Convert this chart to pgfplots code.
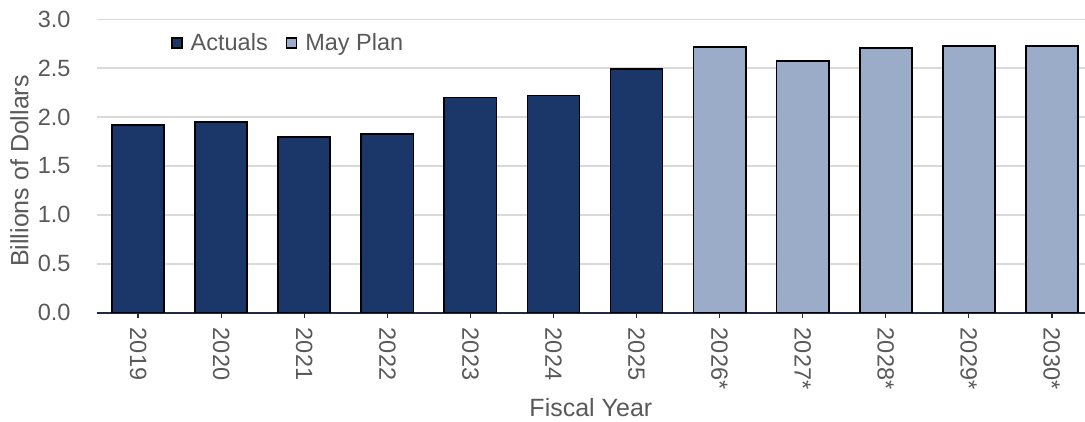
\documentclass[border=0pt]{standalone}
\usepackage{fontspec}
\setmainfont{Liberation Sans}
\usepackage{pgfplots}
\pgfplotsset{compat=1.18}
\definecolor{navy}{HTML}{1B3668}
\definecolor{plan}{HTML}{9AACC7}
\definecolor{gridgray}{HTML}{D9D9D9}
\definecolor{txt}{HTML}{595959}
\definecolor{axisline}{HTML}{1F2A44}
\begin{document}
\begin{tikzpicture}
\begin{axis}[
  scale only axis,
  width=988.3pt, height=293.4pt,
  xmin=-0.5, xmax=11.4,
  ymin=0, ymax=3,
  ytick={0,0.5,1,1.5,2,2.5,3},
  yticklabel style={/pgf/number format/fixed, /pgf/number format/fixed zerofill, /pgf/number format/precision=1, anchor=east, inner sep=0pt, xshift=-21pt},
  /pgf/number format/assume math mode=true,
  xtick={0,...,11},
  xticklabels={2019,2020,2021,2022,2023,2024,2025,2026*,2027*,2028*,2029*,2030*},
  xticklabel style={rotate=-90, anchor=west, inner sep=0pt, xshift=10pt},
  tick label style={font=\fontsize{23.5}{28}\selectfont, text=txt},
  axis x line*=bottom,
  axis y line*=left,
  x axis line style={-, color=axisline, line width=1.8pt},
  y axis line style={draw=none},
  ytick style={draw=none},
  xtick style={color=axisline, line width=1.5pt},
  tick align=outside,
  major tick length=5pt,
  ymajorgrids,
  grid style={color=gridgray, line width=1.5pt},
  xlabel={Fiscal Year},
  ylabel={Billions of Dollars},
  label style={font=\fontsize{25}{30}\selectfont, text=txt},
  xlabel style={at={([yshift=-85pt]rel axis cs:0.5,0)}, anchor=north, inner sep=0pt},
  ylabel style={at={([xshift=-86.7pt,yshift=-5pt]rel axis cs:0,0.5)}, anchor=north, inner sep=0pt},
  legend style={draw=none, fill=none, inner sep=0pt, at={(axis description cs:0,1)}, anchor=west, xshift=74.3pt, yshift=-23.7pt, font=\fontsize{23.5}{28}\selectfont, text=txt, legend columns=2, /tikz/every even column/.append style={column sep=18pt}, nodes={inner sep=0pt}},
  legend image code/.code={\draw[#1, line width=1.5pt] (0pt,-5pt) rectangle (10pt,5pt);},
  legend cell align=left,
]
\addplot[ybar, bar shift=0pt, bar width=0.627, fill=navy, draw=black, line width=1.8pt] coordinates {
(0,1.92) (1,1.95) (2,1.80) (3,1.83) (4,2.20) (5,2.22) (6,2.49)};
\addlegendentry{\hspace{8pt}Actuals}
\addplot[ybar, bar shift=0pt, bar width=0.627, fill=plan, draw=black, line width=1.8pt] coordinates {
(7,2.72) (8,2.57) (9,2.71) (10,2.73) (11,2.73)};
\addlegendentry{\hspace{8pt}May Plan}
\end{axis}
\pgfresetboundingbox
\useasboundingbox ([xshift=-96.7pt,yshift=-108.3pt]current axis.south west) rectangle ([yshift=19.3pt]current axis.north east);
\end{tikzpicture}
\end{document}
